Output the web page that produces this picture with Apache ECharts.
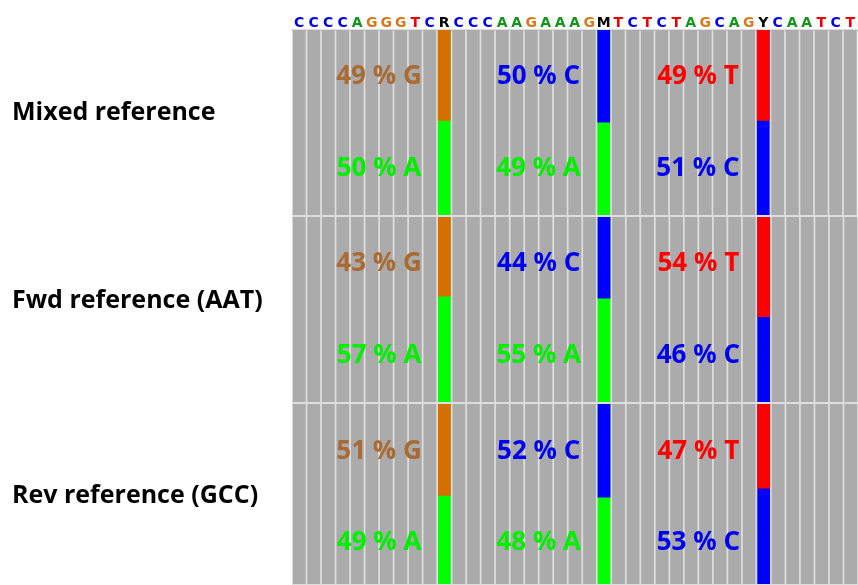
<!DOCTYPE html>
<html>
<head>
<meta charset="utf-8">
<script src="https://cdn.jsdelivr.net/npm/echarts@6/dist/echarts.min.js"></script>
<style>html,body{margin:0;padding:0;background:#fff;}#chart{width:858px;height:585px;}</style>
</head>
<body>
<div id="chart"></div>
<script>
// ---- data ----
const sequence = ['C','C','C','C','A','G','G','G','T','C','R','C','C','C','A','A','G','A','A','A','G','M','T','C','T','C','T','A','G','C','A','G','Y','C','A','A','T','C','T'];
const rowNames = ['Mixed reference', 'Fwd reference (AAT)', 'Rev reference (GCC)'];
const variantCodes = ['R', 'M', 'Y'];
const topBases = ['G', 'C', 'T'];
const bottomBases = ['A', 'A', 'C'];
const topPct = [[49, 50, 49], [43, 44, 54], [51, 52, 47]];
const bottomPct = [[50, 49, 51], [57, 55, 46], [49, 48, 53]];

// ---- styles / layout ----
const barColor = {A: '#00ff00', C: '#0000ff', G: '#d46f00', T: '#ff0000'};
const labelColor = {A: '#00f000', C: '#0000f0', G: '#a86b33', T: '#ff0000'};
const seqColor = {A: '#12961a', C: '#0000ee', G: '#da7a1a', T: '#f00000'};
const cellGrey = '#ababab';
const sepGrey = '#dedede';
const rowLabelY = [113, 301, 496];
const pctLabelTopY = [25, 25, 26.5];
const pctLabelBotY = [75, 75, 77];

const variantIdx = variantCodes.map(c => sequence.indexOf(c));
const gridLeft = 292, gridWidth = 566, gridTop = 29, rowH = 187;

const grids = [], xAxes = [], yAxes = [], series = [], graphics = [];
const rich = {};
Object.keys(seqColor).forEach(k => rich[k] = {color: seqColor[k], fontFamily: 'DejaVu Sans', fontWeight: 'bold', fontSize: 14});
rich.N = {color: '#000', fontFamily: 'DejaVu Sans', fontWeight: 'bold', fontSize: 14};

rowNames.forEach((name, r) => {
  grids.push({left: gridLeft, width: gridWidth, top: gridTop + r * rowH, height: rowH,
    show: true, backgroundColor: sepGrey, borderWidth: 0});
  xAxes.push({type: 'category', gridIndex: r, data: sequence, boundaryGap: true,
    position: 'top', offset: r === 0 ? 17 : 0, show: r === 0,
    axisLine: {show: true, lineStyle: {color: '#c4c4c4', width: 1}},
    axisTick: {show: false},
    axisLabel: {show: true, inside: true, interval: 0, margin: 4,
      formatter: v => '{' + (seqColor[v] ? v : 'N') + '|' + v + '}', rich: rich}});
  xAxes.push({type: 'value', gridIndex: r, min: -0.5, max: sequence.length - 0.5, show: false});
  yAxes.push({type: 'value', gridIndex: r, min: -0.6, max: 100.6, inverse: true, show: false,
    splitLine: {show: false}});

  series.push({type: 'bar', xAxisIndex: 2 * r, yAxisIndex: r, barCategoryGap: '12%', barGap: '-100%',
    silent: true, animation: false,
    data: sequence.map((b, i) => {
      const v = variantIdx.indexOf(i);
      return {value: 100, itemStyle: {color: v < 0 ? cellGrey : barColor[bottomBases[v]]}};
    })});
  series.push({type: 'bar', xAxisIndex: 2 * r, yAxisIndex: r, barCategoryGap: '12%', barGap: '-100%',
    silent: true, animation: false,
    data: sequence.map((b, i) => {
      const v = variantIdx.indexOf(i);
      return v < 0 ? '-' : {value: topPct[r][v], itemStyle: {color: barColor[topBases[v]]}};
    })});
  const pts = [];
  variantIdx.forEach((ci, v) => {
    pts.push({value: [ci - 4.5, pctLabelTopY[r]], txt: topPct[r][v] + ' % ' + topBases[v], col: labelColor[topBases[v]]});
    pts.push({value: [ci - 4.5, pctLabelBotY[r]], txt: bottomPct[r][v] + ' % ' + bottomBases[v], col: labelColor[bottomBases[v]]});
  });
  series.push({type: 'scatter', xAxisIndex: 2 * r + 1, yAxisIndex: r, symbolSize: 0, silent: true, animation: false,
    itemStyle: {opacity: 1},
    data: pts.map(p => ({value: p.value, label: {show: true, position: 'inside', formatter: p.txt,
      color: p.col, textBorderWidth: 0, opacity: 1,
      fontFamily: 'Open Sans', fontWeight: 'bold', fontSize: 26}}))});

  graphics.push({type: 'text', left: 12, top: rowLabelY[r] - 13,
    style: {text: name, fill: '#000', font: 'bold 25px "Open Sans"'}});
});

const chart = echarts.init(document.getElementById('chart'), null, {renderer: 'canvas'});
chart.setOption({
  backgroundColor: '#ffffff',
  animation: false,
  grid: grids, xAxis: xAxes, yAxis: yAxes, series: series, graphic: graphics
});
</script>
</body>
</html>
